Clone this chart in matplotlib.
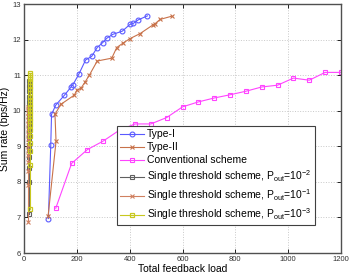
import numpy as np
import matplotlib
matplotlib.use('Agg')
import matplotlib.pyplot as plt

# Type-I
t1_x = [92, 101, 104, 120, 153, 178, 184, 208, 233, 256, 277, 298, 313, 336, 372, 401, 414, 433, 467]
t1_y = [6.97, 9.03, 9.90, 10.16, 10.44, 10.67, 10.72, 11.04, 11.43, 11.53, 11.78, 11.92, 12.04, 12.15, 12.24, 12.43, 12.46, 12.56, 12.67]

# Type-II
t2_x = [91, 121, 117, 139, 190, 200, 215, 231, 247, 277, 332, 351, 376, 401, 439, 489, 496, 515, 559]
t2_y = [7.04, 9.14, 9.90, 10.18, 10.44, 10.58, 10.63, 10.81, 11.00, 11.40, 11.48, 11.78, 11.91, 12.03, 12.17, 12.42, 12.45, 12.57, 12.66]

# Conventional scheme
conv_x = [120, 180, 240, 300, 360, 420, 480, 540, 600, 660, 720, 780, 840, 900, 960, 1020, 1080, 1140, 1200]
conv_y = [7.26, 8.52, 8.91, 9.15, 9.45, 9.63, 9.63, 9.81, 10.11, 10.25, 10.36, 10.45, 10.55, 10.67, 10.72, 10.92, 10.86, 11.08, 11.08]

# Single threshold schemes
s2_x = [19, 19, 19, 19, 19, 19, 19, 19, 19, 19, 19, 19, 19, 19, 19, 19, 19, 19, 19]
s2_y = [7.10, 8.00, 8.40, 8.70, 8.90, 9.05, 9.20, 9.35, 9.50, 9.62, 9.75, 9.88, 10.00, 10.12, 10.25, 10.40, 10.55, 10.70, 10.85]

s1_x = [16, 16, 16, 16, 16, 16, 16, 16, 16, 16, 16, 16, 16, 16, 16, 16]
s1_y = [6.88, 7.90, 8.30, 8.55, 8.75, 8.90, 9.05, 9.20, 9.35, 9.50, 9.62, 9.75, 9.85, 9.95, 10.05, 10.12]

s3_x = [21, 21, 21, 21, 21, 21, 21, 21, 21, 21, 21, 21, 21, 21, 21, 21, 21, 21, 21, 21, 21, 21, 21]
s3_y = [7.25, 8.47, 8.88, 9.10, 9.30, 9.45, 9.60, 9.70, 9.80, 9.90, 10.00, 10.10, 10.20, 10.30, 10.40, 10.50, 10.60, 10.70, 10.80, 10.90, 10.95, 11.00, 11.05]

plt.rcParams['font.family'] = ['Liberation Sans', 'DejaVu Sans']
plt.rcParams['mathtext.fontset'] = 'custom'
plt.rcParams['mathtext.rm'] = 'Liberation Sans'

fig = plt.figure(figsize=(3.49, 2.75), dpi=100)
ax = fig.add_axes([0.069, 0.08, 0.908, 0.905])

ms = 3.5
lw = 0.8
ax.plot(t1_x, t1_y, '-o', color='#5a5aff', lw=lw, ms=ms, mfc='none', mew=0.8, label='Type-I')
ax.plot(t2_x, t2_y, '-x', color='#c8724a', lw=lw, ms=2.5, mew=0.8, label='Type-II')
ax.plot(conv_x, conv_y, '-s', color='#ff44ff', lw=lw, ms=ms, mfc='none', mew=0.8, label='Conventional scheme')
ax.plot(s2_x, s2_y, '-s', color='#606060', lw=lw, ms=ms, mfc='none', mew=0.8,
        label='Single threshold scheme, P$_{\\rm out}$=10$^{-2}$')
ax.plot(s1_x, s1_y, '-x', color='#d08060', lw=lw, ms=2.5, mew=0.8,
        label='Single threshold scheme, P$_{\\rm out}$=10$^{-1}$')
ax.plot(s3_x, s3_y, '-s', color='#c8c820', lw=lw, ms=ms, mfc='none', mew=0.9,
        label='Single threshold scheme, P$_{\\rm out}$=10$^{-3}$')

ax.set_xlim(0, 1200)
ax.set_ylim(6, 13)
ax.set_xticks([0, 200, 400, 600, 800, 1000, 1200])
ax.set_yticks([6, 7, 8, 9, 10, 11, 12, 13])
ax.tick_params(direction='in', top=True, right=True, labelsize=5.5, length=3, width=0.6, pad=2,
               labelcolor='#303030')
ax.grid(True, linestyle=':', color='#c8c8c8', lw=0.7)
for s in ax.spines.values():
    s.set_color('#505050')
    s.set_linewidth(1.0)

ax.set_xlabel('Total feedback load', fontsize=7.5, labelpad=1)
ax.set_ylabel('Sum rate (bps/Hz)', fontsize=7.5, labelpad=2)

leg = ax.legend(loc='upper left', bbox_to_anchor=(0.293, 0.51), fontsize=7.5, fancybox=False,
                framealpha=1, edgecolor='#404040', borderpad=0.3, labelspacing=0.3,
                handlelength=2.3, handletextpad=0.3, borderaxespad=0)
leg.get_frame().set_linewidth(0.8)

plt.savefig('out.png', dpi=100)
